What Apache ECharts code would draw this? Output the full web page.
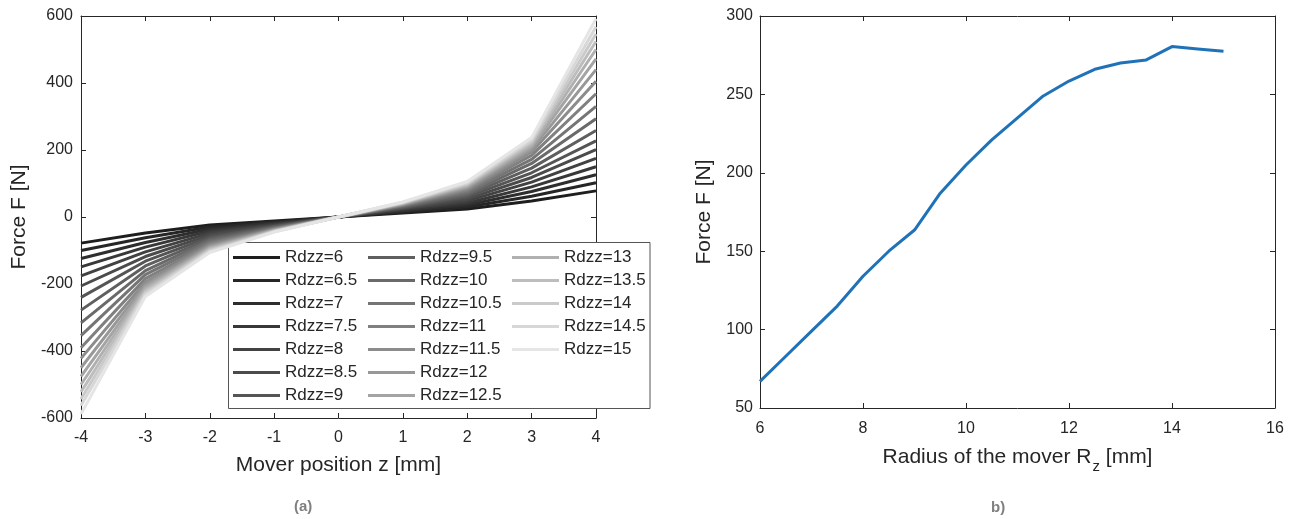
<!DOCTYPE html>
<html>
<head>
<meta charset="utf-8">
<script src="https://cdn.jsdelivr.net/npm/echarts@6/dist/echarts.min.js"></script>
<style>
html,body{margin:0;padding:0;background:#fff;}
#main{width:1299px;height:519px;}
</style>
</head>
<body>
<div id="main"></div>
<script>
// ---- data ----
const zPositions = [-4, -3, -2, -1, 0, 1, 2, 3, 4];
const rdzzValues = [6, 6.5, 7, 7.5, 8, 8.5, 9, 9.5, 10, 10.5, 11, 11.5, 12, 12.5, 13, 13.5, 14, 14.5, 15];
// force at each mover position, one value per Rdzz (in order of rdzzValues)
const forceZm4 = [-78, -100, -124, -149, -176, -206, -240, -278, -316, -354, -390, -422, -450, -476, -500, -522, -543, -563, -588];
const forceZm3 = [-48, -62, -76, -90, -104, -118, -132, -146, -160, -172, -184, -194, -202, -209, -215, -221, -226, -231, -237];
const forceZm2 = [-24, -30, -36, -42, -48, -54, -60, -65, -70, -75, -80, -84, -88, -91, -94, -97, -100, -103, -106];
const forceZm1 = [-12, -15, -18, -21, -24, -26, -28, -30, -32, -34, -36, -37, -38, -40, -41, -42, -43, -44, -45];
const forceZ0  = [0, 0, 0, 0, 0, 0, 0, 0, 0, 0, 0, 0, 0, 0, 0, 0, 0, 0, 0];
const forceZ1  = [12, 15, 18, 21, 24, 26, 28, 30, 32, 34, 36, 37, 38, 40, 41, 42, 43, 44, 45];
const forceZ2  = [24, 30, 36, 42, 48, 54, 60, 65, 70, 75, 80, 84, 88, 91, 94, 97, 100, 103, 106];
const forceZ3  = [48, 62, 76, 90, 104, 118, 132, 146, 160, 172, 184, 194, 202, 209, 215, 221, 226, 231, 237];
const forceZ4  = [78, 102, 126, 150, 175, 201, 227, 258, 293, 330, 368, 405, 440, 472, 500, 524, 546, 568, 592];
const forceByZ = [forceZm4, forceZm3, forceZm2, forceZm1, forceZ0, forceZ1, forceZ2, forceZ3, forceZ4];

const moverRadius = [6, 6.5, 7, 7.5, 8, 8.5, 9, 9.5, 10, 10.5, 11, 11.5, 12, 12.5, 13, 13.5, 14, 14.5, 15];
const forceVsRadius = [67, 83, 99, 115, 134, 150, 163.5, 187, 205, 221, 235, 249, 258.5, 266, 270, 272, 280.5, 279, 277.5];

// ---- styles ----
const grays = ['#1e1e1e','#262626','#2e2e2e','#383838','#424242','#4b4b4b','#555555','#5f5f5f','#6a6a6a','#757575',
               '#808080','#8c8c8c','#989898','#a4a4a4','#b0b0b0','#bdbdbd','#cacaca','#d7d7d7','#e5e5e5'];
const FONT = 'Liberation Sans, Arial, Helvetica, sans-serif';
const INK = '#262626';

function mainAxis(extra) {
  return Object.assign({
    type: 'value',
    axisLine: {show: true, onZero: false, lineStyle: {color: INK, width: 1}},
    axisTick: {show: true, inside: true, length: 5, lineStyle: {color: INK}},
    axisLabel: {color: INK, fontSize: 16, fontFamily: FONT},
    splitLine: {show: false},
    nameLocation: 'middle',
    nameTextStyle: {color: INK, fontSize: 21, fontFamily: FONT}
  }, extra);
}
function boxAxis(extra) {
  return Object.assign({
    type: 'value',
    axisLine: {show: true, onZero: false, lineStyle: {color: INK, width: 1}},
    axisTick: {show: true, inside: true, length: 5, lineStyle: {color: INK}},
    axisLabel: {show: false},
    splitLine: {show: false}
  }, extra);
}

const series = rdzzValues.map((r, i) => ({
  name: 'Rdzz=' + r,
  type: 'line',
  xAxisIndex: 0,
  yAxisIndex: 0,
  symbol: 'none',
  showSymbol: false,
  silent: true,
  lineStyle: {color: grays[i], width: 3},
  itemStyle: {color: grays[i]},
  data: zPositions.map((z, k) => [z, forceByZ[k][i]])
}));
series.push({
  name: 'radius',
  type: 'line',
  xAxisIndex: 2,
  yAxisIndex: 2,
  symbol: 'none',
  silent: true,
  lineStyle: {color: '#1f72b8', width: 3},
  data: moverRadius.map((r, i) => [r, forceVsRadius[i]])
});

const legendNames = rdzzValues.map(r => 'Rdzz=' + r);
function legendColumn(names, left) {
  return {
    data: names,
    orient: 'vertical',
    left: left,
    top: 249,
    padding: 0,
    itemGap: 6,
    itemWidth: 47,
    itemHeight: 3,
    icon: 'rect',
    selectedMode: false,
    textStyle: {color: INK, fontSize: 17, fontFamily: FONT}
  };
}

const option = {
  animation: false,
  backgroundColor: '#fff',
  grid: [
    {left: 81, right: 703, top: 16, bottom: 101},
    {left: 760, right: 24, top: 16, bottom: 111}
  ],
  xAxis: [
    mainAxis({gridIndex: 0, min: -4, max: 4, interval: 1, position: 'bottom',
      axisLabel: {color: INK, fontSize: 16, fontFamily: FONT, margin: 12},
      name: 'Mover position z [mm]', nameGap: 37}),
    boxAxis({gridIndex: 0, min: -4, max: 4, interval: 1, position: 'top'}),
    mainAxis({gridIndex: 1, min: 6, max: 16, interval: 2, position: 'bottom',
      axisLabel: {color: INK, fontSize: 16, fontFamily: FONT, margin: 13},
      name: 'Radius of the mover R{sub|z} [mm]', nameGap: 32,
      nameTextStyle: {color: INK, fontSize: 21, fontFamily: FONT,
        rich: {sub: {fontSize: 15, color: INK, fontFamily: FONT, padding: [19, 0, 0, 1]}}}}),
    boxAxis({gridIndex: 1, min: 6, max: 16, interval: 2, position: 'top'})
  ],
  yAxis: [
    mainAxis({gridIndex: 0, min: -600, max: 600, interval: 200, position: 'left',
      axisLabel: {color: INK, fontSize: 16, fontFamily: FONT, margin: 8},
      name: 'Force F [N]', nameGap: 51}),
    boxAxis({gridIndex: 0, min: -600, max: 600, interval: 200, position: 'right'}),
    mainAxis({gridIndex: 1, min: 50, max: 300, interval: 50, position: 'left',
      axisLabel: {color: INK, fontSize: 16, fontFamily: FONT, margin: 7},
      name: 'Force F [N]', nameGap: 45}),
    boxAxis({gridIndex: 1, min: 50, max: 300, interval: 50, position: 'right'})
  ],
  legend: [
    legendColumn(legendNames.slice(0, 7), 233),
    legendColumn(legendNames.slice(7, 14), 368),
    legendColumn(legendNames.slice(14), 512)
  ],
  graphic: [
    {type: 'rect', z: 3, silent: true,
     shape: {x: 228.5, y: 242.5, width: 421.5, height: 166},
     style: {fill: '#fff', stroke: '#555', lineWidth: 1}},
    {type: 'text', left: 294, top: 499, style: {text: '(a)', fill: '#7f7f7f', font: 'bold 15px ' + FONT}},
    {type: 'text', left: 991, top: 500, style: {text: 'b)', fill: '#7f7f7f', font: 'bold 15px ' + FONT}}
  ],
  series: series
};

const chart = echarts.init(document.getElementById('main'), null, {renderer: 'canvas'});
chart.setOption(option);
</script>
</body>
</html>
